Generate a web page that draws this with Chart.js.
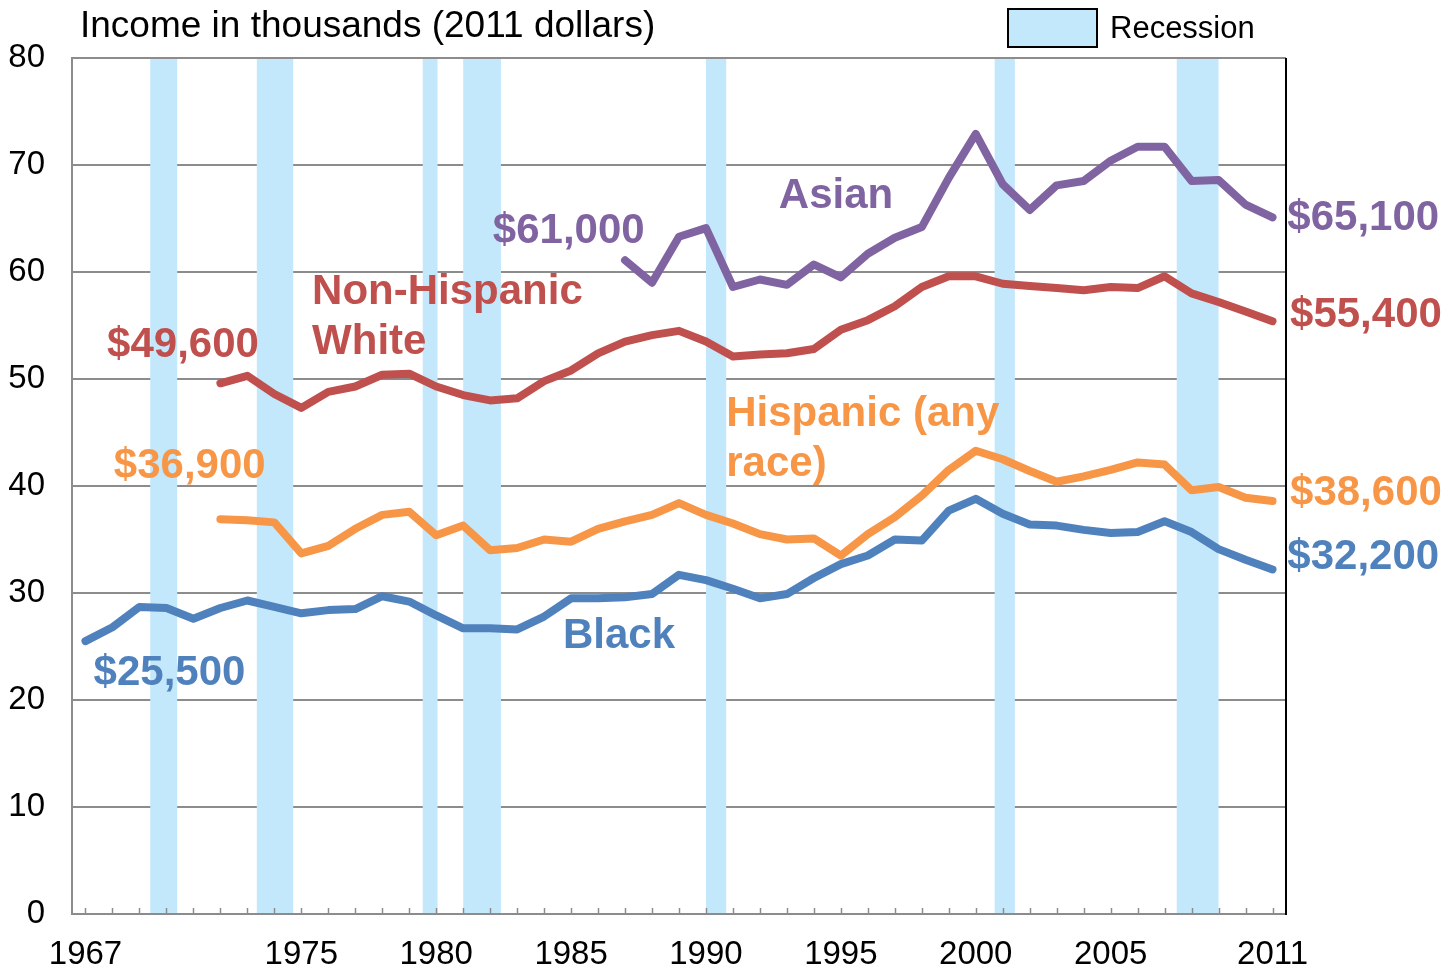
<!DOCTYPE html>
<html>
<head>
<meta charset="utf-8">
<script src="https://cdn.jsdelivr.net/npm/chart.js@4.4.0/dist/chart.umd.min.js"></script>
<style>
  html, body { margin: 0; padding: 0; background: #fff; }
  #wrap { width: 1454px; height: 968px; }
</style>
</head>
<body>
<div id="wrap"><canvas id="myChart" width="1454" height="968"></canvas></div>
<script>
'use strict';

// years on the x axis
let years = [1967, 1968, 1969, 1970, 1971, 1972, 1973, 1974, 1975, 1976,
  1977, 1978, 1979, 1980, 1981, 1982, 1983, 1984, 1985, 1986,
  1987, 1988, 1989, 1990, 1991, 1992, 1993, 1994, 1995, 1996,
  1997, 1998, 1999, 2000, 2001, 2002, 2003, 2004, 2005, 2006,
  2007, 2008, 2009, 2010, 2011];

// median income, thousands of 2011 dollars
// black starts 1967, white + hispanic start 1972, asian starts 1987
let black = [25.5, 26.8, 28.7, 28.6, 27.6, 28.6, 29.3, 28.7, 28.1, 28.4,
  28.5, 29.7, 29.2, 27.9, 26.7, 26.7, 26.6, 27.8, 29.5, 29.5,
  29.6, 29.9, 31.7, 31.2, 30.4, 29.5, 29.9, 31.4, 32.7, 33.5,
  35.0, 34.9, 37.7, 38.8, 37.4, 36.4, 36.3, 35.9, 35.6, 35.7,
  36.7, 35.7, 34.1, 33.1, 32.2];

let white = [49.6, 50.3, 48.6, 47.3, 48.8, 49.3, 50.4, 50.5, 49.3, 48.5,
  48.0, 48.2, 49.8, 50.8, 52.4, 53.5, 54.1, 54.5, 53.5, 52.1,
  52.3, 52.4, 52.8, 54.6, 55.5, 56.8, 58.6, 59.6, 59.6, 58.9,
  58.7, 58.5, 58.3, 58.6, 58.5, 59.6, 58.0, 57.2, 56.3, 55.4];

let hispanic = [36.9, 36.8, 36.6, 33.7, 34.4, 36.0, 37.3, 37.6, 35.4, 36.3,
  34.0, 34.2, 35.0, 34.8, 36.0, 36.7, 37.3, 38.4, 37.3, 36.5,
  35.5, 35.0, 35.1, 33.5, 35.5, 37.1, 39.1, 41.5, 43.3, 42.5,
  41.4, 40.4, 40.9, 41.5, 42.2, 42.0, 39.6, 39.9, 38.9, 38.6];

let asian = [61.1, 59.0, 63.3, 64.1, 58.6, 59.3, 58.8, 60.7, 59.5, 61.7,
  63.2, 64.2, 68.8, 72.9, 68.2, 65.8, 68.1, 68.5, 70.4, 71.7,
  71.7, 68.5, 68.6, 66.3, 65.1];

// recession shading, in years
let recessionStart = [1969.4, 1973.35, 1979.5, 1981.0, 1990.0, 2000.7, 2007.45];
let recessionEnd = [1970.4, 1974.7, 1980.05, 1982.4, 1990.75, 2001.45, 2009.0];

let xLabelYears = [1967, 1975, 1980, 1985, 1990, 1995, 2000, 2005, 2011];

// text labels placed in data units: [text, year (left edge), value (middle), color]
let blueC = '#4F81BD';
let redC = '#C0504D';
let orangeC = '#F79646';
let purpleC = '#8064A2';
let bandC = '#C3E8FC';

let notes = [
  ['$61,000', 1982.1, 63.8, purpleC],
  ['Asian', 1992.7, 67.1, purpleC],
  ['Non-Hispanic', 1975.4, 58.1, redC],
  ['White', 1975.4, 53.4, redC],
  ['$49,600', 1967.8, 53.1, redC],
  ['$36,900', 1968.05, 41.8, orangeC],
  ['Hispanic (any', 1990.75, 46.7, orangeC],
  ['race)', 1990.75, 42.0, orangeC],
  ['$25,500', 1967.3, 22.5, blueC],
  ['Black', 1984.7, 25.9, blueC],
  ['$65,100', 2011.55, 65.0, purpleC],
  ['$55,400', 2011.65, 55.9, redC],
  ['$38,600', 2011.65, 39.3, orangeC],
  ['$32,200', 2011.55, 33.3, blueC]
];

function toPoints(values) {
  let start = years.length - values.length;
  return values.map((v, i) => ({ x: years[start + i], y: v }));
}

let axisFont = { family: "'Liberation Sans', Arial, sans-serif", size: 33 };

// shaded recession bars, under the lines but over the grid
const recessionBars = {
  id: 'recessionBars',
  beforeDatasetsDraw(chart) {
    let ctx = chart.ctx;
    let x = chart.scales.x;
    let area = chart.chartArea;
    ctx.save();
    ctx.fillStyle = bandC;
    for (let i = 0; i < recessionStart.length; i++) {
      let x1 = x.getPixelForValue(recessionStart[i]);
      let x2 = x.getPixelForValue(recessionEnd[i]);
      ctx.fillRect(x1, area.top + 1, x2 - x1, area.bottom - area.top - 2);
    }
    ctx.restore();
  }
};

// frame, inward tick marks, title, legend and text labels
const extras = {
  id: 'extras',
  afterDatasetsDraw(chart) {
    let ctx = chart.ctx;
    let x = chart.scales.x;
    let y = chart.scales.y;
    let area = chart.chartArea;
    ctx.save();

    // top line + right border
    ctx.strokeStyle = '#8c8c8c';
    ctx.lineWidth = 2;
    ctx.beginPath();
    ctx.moveTo(area.left, area.top);
    ctx.lineTo(area.right, area.top);
    ctx.stroke();
    ctx.strokeStyle = '#000';
    ctx.beginPath();
    ctx.moveTo(area.right, area.top);
    ctx.lineTo(area.right, area.bottom + 1);
    ctx.stroke();

    // small ticks pointing up from the x axis
    ctx.strokeStyle = '#8c8c8c';
    ctx.lineWidth = 1.5;
    x.ticks.forEach(t => {
      let px = Math.round(x.getPixelForValue(t.value)) + 0.5;
      ctx.beginPath();
      ctx.moveTo(px, area.bottom);
      ctx.lineTo(px, area.bottom - 6);
      ctx.stroke();
    });

    // title
    ctx.fillStyle = '#000';
    ctx.font = "37px 'Liberation Sans', Arial, sans-serif";
    ctx.textAlign = 'left';
    ctx.textBaseline = 'middle';
    ctx.fillText('Income in thousands (2011 dollars)', 80, 27);

    // legend
    ctx.fillStyle = bandC;
    ctx.fillRect(1008, 9, 89, 38);
    ctx.strokeStyle = '#000';
    ctx.lineWidth = 2;
    ctx.strokeRect(1008, 9, 89, 38);
    ctx.fillStyle = '#000';
    ctx.font = "31px 'Liberation Sans', Arial, sans-serif";
    ctx.fillText('Recession', 1110, 29);

    // series labels
    ctx.font = "bold 42px 'Liberation Sans', Arial, sans-serif";
    notes.forEach(n => {
      ctx.fillStyle = n[3];
      ctx.fillText(n[0], x.getPixelForValue(n[1]), y.getPixelForValue(n[2]));
    });

    ctx.restore();
  }
};

let lineStyle = { borderWidth: 8, pointRadius: 0, tension: 0, borderCapStyle: 'round', borderJoinStyle: 'round', fill: false };

const config = {
  type: 'line',
  data: {
    datasets: [
      Object.assign({ label: 'Black', data: toPoints(black), borderColor: blueC }, lineStyle),
      Object.assign({ label: 'Hispanic (any race)', data: toPoints(hispanic), borderColor: orangeC }, lineStyle),
      Object.assign({ label: 'Non-Hispanic White', data: toPoints(white), borderColor: redC }, lineStyle),
      Object.assign({ label: 'Asian', data: toPoints(asian), borderColor: purpleC }, lineStyle)
    ]
  },
  options: {
    responsive: false,
    animation: false,
    layout: { padding: { top: 58, right: 168, left: 0, bottom: 0 } },
    plugins: {
      legend: { display: false },
      tooltip: { enabled: false }
    },
    scales: {
      x: {
        type: 'linear',
        min: 1966.5,
        max: 2011.5,
        afterBuildTicks: axis => { axis.ticks = years.map(v => ({ value: v })); },
        afterFit: s => { s.height = 54; },
        grid: { display: false, drawTicks: false },
        border: { display: true, color: '#8c8c8c', width: 2 },
        ticks: {
          autoSkip: false,
          maxRotation: 0,
          padding: 21,
          color: '#000',
          font: axisFont,
          callback: v => (xLabelYears.includes(v) ? String(v) : '')
        }
      },
      y: {
        min: 0,
        max: 80,
        afterFit: s => { s.width = 72; },
        grid: { color: '#8c8c8c', lineWidth: 2, drawTicks: false },
        border: { display: true, color: '#8c8c8c', width: 2 },
        ticks: { stepSize: 10, padding: 27, color: '#000', font: axisFont }
      }
    }
  },
  plugins: [recessionBars, extras]
};

const myChart = new Chart(document.getElementById('myChart'), config);
</script>
</body>
</html>
